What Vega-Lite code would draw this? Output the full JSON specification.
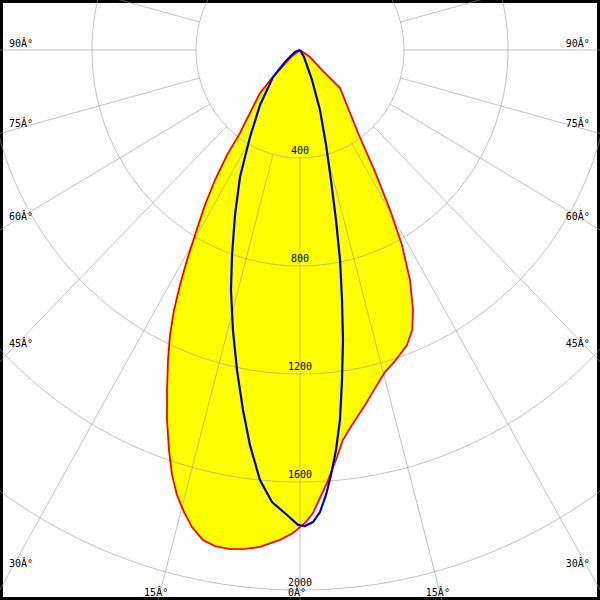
{
  "$schema": "https://vega.github.io/schema/vega-lite/v6.json",
  "width": 600,
  "height": 600,
  "autosize": {"type": "fit", "contains": "padding"},
  "padding": 0,
  "background": "white",
  "config": {"view": {"stroke": "black", "strokeWidth": 6}},
  "datasets": {
    "planeRed": [
      {"i": 1, "angle": 56, "cd": 0},
      {"i": 2, "angle": 56.1, "cd": 46},
      {"i": 3, "angle": 48.8, "cd": 113},
      {"i": 4, "angle": 47.5, "cd": 209},
      {"i": 5, "angle": 36.0, "cd": 380},
      {"i": 6, "angle": 32.6, "cd": 536},
      {"i": 7, "angle": 30.3, "cd": 686},
      {"i": 8, "angle": 28.5, "cd": 822},
      {"i": 9, "angle": 26.4, "cd": 951},
      {"i": 10, "angle": 24.3, "cd": 1057},
      {"i": 11, "angle": 22.6, "cd": 1123},
      {"i": 12, "angle": 20.6, "cd": 1168},
      {"i": 13, "angle": 17.8, "cd": 1206},
      {"i": 14, "angle": 15.3, "cd": 1237},
      {"i": 15, "angle": 13.4, "cd": 1276},
      {"i": 16, "angle": 10.8, "cd": 1338},
      {"i": 17, "angle": 8.2, "cd": 1403},
      {"i": 18, "angle": 6.5, "cd": 1454},
      {"i": 19, "angle": 5.4, "cd": 1514},
      {"i": 20, "angle": 3.7, "cd": 1607},
      {"i": 21, "angle": 2.65, "cd": 1661},
      {"i": 22, "angle": 1.67, "cd": 1716},
      {"i": 23, "angle": 0.76, "cd": 1748},
      {"i": 24, "angle": 0, "cd": 1767},
      {"i": 25, "angle": -0.86, "cd": 1789},
      {"i": 26, "angle": -2.43, "cd": 1816},
      {"i": 27, "angle": -4.78, "cd": 1847},
      {"i": 28, "angle": -6.53, "cd": 1860},
      {"i": 29, "angle": -8.29, "cd": 1868},
      {"i": 30, "angle": -10.09, "cd": 1866},
      {"i": 31, "angle": -11.62, "cd": 1853},
      {"i": 32, "angle": -13.23, "cd": 1815},
      {"i": 33, "angle": -14.62, "cd": 1768},
      {"i": 34, "angle": -16.02, "cd": 1715},
      {"i": 35, "angle": -17.37, "cd": 1649},
      {"i": 36, "angle": -18.78, "cd": 1565},
      {"i": 37, "angle": -20.47, "cd": 1463},
      {"i": 38, "angle": -22.1, "cd": 1359},
      {"i": 39, "angle": -23.86, "cd": 1255},
      {"i": 40, "angle": -25.35, "cd": 1168},
      {"i": 41, "angle": -26.71, "cd": 1078},
      {"i": 42, "angle": -27.93, "cd": 985},
      {"i": 43, "angle": -29.19, "cd": 891},
      {"i": 44, "angle": -30.68, "cd": 784},
      {"i": 45, "angle": -32.47, "cd": 681},
      {"i": 46, "angle": -34.17, "cd": 582},
      {"i": 47, "angle": -35.83, "cd": 480},
      {"i": 48, "angle": -36.9, "cd": 384},
      {"i": 49, "angle": -39.5, "cd": 302},
      {"i": 50, "angle": -44.0, "cd": 221},
      {"i": 51, "angle": -46.1, "cd": 150},
      {"i": 52, "angle": -47.8, "cd": 88},
      {"i": 53, "angle": -54.2, "cd": 38},
      {"i": 54, "angle": -56, "cd": 0}
    ],
    "planeBlue": [
      {"i": 1, "angle": 31, "cd": 0},
      {"i": 2, "angle": 30.7, "cd": 30},
      {"i": 3, "angle": 22.6, "cd": 120},
      {"i": 4, "angle": 19.1, "cd": 235},
      {"i": 5, "angle": 15.9, "cd": 366},
      {"i": 6, "angle": 13.9, "cd": 496},
      {"i": 7, "angle": 12.4, "cd": 645},
      {"i": 8, "angle": 11.2, "cd": 793},
      {"i": 9, "angle": 9.9, "cd": 940},
      {"i": 10, "angle": 8.75, "cd": 1087},
      {"i": 11, "angle": 7.53, "cd": 1233},
      {"i": 12, "angle": 6.4, "cd": 1379},
      {"i": 13, "angle": 5.34, "cd": 1488},
      {"i": 14, "angle": 4.33, "cd": 1579},
      {"i": 15, "angle": 3.47, "cd": 1651},
      {"i": 16, "angle": 2.57, "cd": 1713},
      {"i": 17, "angle": 1.64, "cd": 1749},
      {"i": 18, "angle": 0.62, "cd": 1763},
      {"i": 19, "angle": -0.25, "cd": 1759},
      {"i": 20, "angle": -1.66, "cd": 1723},
      {"i": 21, "angle": -3.68, "cd": 1678},
      {"i": 22, "angle": -5.52, "cd": 1600},
      {"i": 23, "angle": -7.49, "cd": 1476},
      {"i": 24, "angle": -9.34, "cd": 1351},
      {"i": 25, "angle": -11.55, "cd": 1210},
      {"i": 26, "angle": -13.96, "cd": 1069},
      {"i": 27, "angle": -16.62, "cd": 928},
      {"i": 28, "angle": -19.0, "cd": 803},
      {"i": 29, "angle": -22.25, "cd": 660},
      {"i": 30, "angle": -26.13, "cd": 524},
      {"i": 31, "angle": -30.83, "cd": 375},
      {"i": 32, "angle": -37.05, "cd": 255},
      {"i": 33, "angle": -46.1, "cd": 144},
      {"i": 34, "angle": -52.4, "cd": 73},
      {"i": 35, "angle": -69, "cd": 21},
      {"i": 36, "angle": -69, "cd": 0}
    ],
    "rings": [
      {"v": 400, "label": "400"},
      {"v": 800, "label": "800"},
      {"v": 1200, "label": "1200"},
      {"v": 1600, "label": "1600"},
      {"v": 2000, "label": "2000"}
    ],
    "spokes": [
      {"a": 0}, {"a": 15}, {"a": 30}, {"a": 45}, {"a": 60}, {"a": 75}, {"a": 90}, {"a": 105},
      {"a": 120}, {"a": 135}, {"a": 150}, {"a": 165}, {"a": 180}, {"a": 195}, {"a": 210},
      {"a": 225}, {"a": 240}, {"a": 255}, {"a": 270}, {"a": 285}, {"a": 300}, {"a": 315},
      {"a": 330}, {"a": 345}
    ],
    "sideLabels": [
      {"a": 30, "t": "30Â°"},
      {"a": 45, "t": "45Â°"},
      {"a": 60, "t": "60Â°"},
      {"a": 75, "t": "75Â°"},
      {"a": 90, "t": "90Â°"}
    ],
    "bottomLabels": [
      {"a": -15, "t": "15Â°"},
      {"a": 0, "t": "0Â°"},
      {"a": 15, "t": "15Â°"}
    ]
  },
  "encoding": {
    "x": {"field": "x", "type": "quantitative", "scale": {"domain": [-1153.85, 1153.85], "nice": false, "zero": false}, "axis": null},
    "y": {"field": "y", "type": "quantitative", "scale": {"domain": [-185.2, 2037], "nice": false, "zero": false, "reverse": true}, "axis": null}
  },
  "layer": [
    {
      "data": {"name": "planeRed"},
      "transform": [
        {"calculate": "datum.cd * sin(datum.angle * PI / 180)", "as": "x"},
        {"calculate": "datum.cd * cos(datum.angle * PI / 180)", "as": "y"}
      ],
      "mark": {"type": "line", "fill": "#ffff00", "stroke": "#ffff00", "strokeOpacity": 0, "clip": true},
      "encoding": {"order": {"field": "i", "type": "quantitative"}}
    },
    {
      "data": {"name": "rings"},
      "transform": [
        {"calculate": "0", "as": "x"},
        {"calculate": "0", "as": "y"}
      ],
      "mark": {
        "type": "point",
        "shape": "M -1 0 C -1 -0.5736 -0.5523 -1.0385 0 -1.0385 C 0.5523 -1.0385 1 -0.5736 1 0 C 1 0.5736 0.5523 1.0385 0 1.0385 C -0.5523 1.0385 -1 0.5736 -1 0 Z",
        "filled": false,
        "stroke": "#999999",
        "strokeOpacity": 0.6,
        "strokeWidth": 1,
        "opacity": 1,
        "clip": true
      },
      "encoding": {
        "size": {"field": "v", "type": "quantitative", "scale": {"type": "pow", "exponent": 2, "domain": [0, 2000], "range": [0, 1081600]}, "legend": null}
      }
    },
    {
      "data": {"name": "spokes"},
      "transform": [
        {"calculate": "400 * sin(datum.a * PI / 180)", "as": "x"},
        {"calculate": "400 * cos(datum.a * PI / 180)", "as": "y"},
        {"calculate": "3000 * sin(datum.a * PI / 180)", "as": "x2"},
        {"calculate": "3000 * cos(datum.a * PI / 180)", "as": "y2"}
      ],
      "mark": {"type": "rule", "stroke": "#999999", "strokeOpacity": 0.6, "strokeWidth": 1, "clip": true},
      "encoding": {
        "x2": {"field": "x2"},
        "y2": {"field": "y2"}
      }
    },
    {
      "data": {"name": "rings"},
      "transform": [
        {"calculate": "0", "as": "x"},
        {"calculate": "datum.v", "as": "y"}
      ],
      "mark": {"type": "text", "align": "center", "baseline": "alphabetic", "dy": -4, "font": "DejaVu Sans Mono", "fontSize": 10, "color": "black"},
      "encoding": {
        "text": {"field": "label"}
      }
    },
    {
      "data": {"name": "sideLabels"},
      "transform": [
        {"calculate": "-1119", "as": "x"},
        {"calculate": "1111 * cos(datum.a * PI / 180) / sin(datum.a * PI / 180)", "as": "y"}
      ],
      "mark": {"type": "text", "align": "left", "baseline": "alphabetic", "dy": -3, "font": "DejaVu Sans Mono", "fontSize": 10, "color": "black"},
      "encoding": {"text": {"field": "t"}}
    },
    {
      "data": {"name": "sideLabels"},
      "transform": [
        {"calculate": "1115", "as": "x"},
        {"calculate": "1111 * cos(datum.a * PI / 180) / sin(datum.a * PI / 180)", "as": "y"}
      ],
      "mark": {"type": "text", "align": "right", "baseline": "alphabetic", "dy": -3, "font": "DejaVu Sans Mono", "fontSize": 10, "color": "black"},
      "encoding": {"text": {"field": "t"}}
    },
    {
      "data": {"name": "bottomLabels"},
      "transform": [
        {"calculate": "2022 * sin(datum.a * PI / 180) / cos(datum.a * PI / 180)", "as": "x"},
        {"calculate": "2022", "as": "y"}
      ],
      "mark": {"type": "text", "align": "center", "baseline": "alphabetic", "dx": -3, "font": "DejaVu Sans Mono", "fontSize": 10, "color": "black"},
      "encoding": {"text": {"field": "t"}}
    },
    {
      "data": {"name": "planeRed"},
      "transform": [
        {"calculate": "datum.cd * sin(datum.angle * PI / 180)", "as": "x"},
        {"calculate": "datum.cd * cos(datum.angle * PI / 180)", "as": "y"}
      ],
      "mark": {"type": "line", "stroke": "#ff0000", "strokeWidth": 1.8, "clip": true},
      "encoding": {"order": {"field": "i", "type": "quantitative"}}
    },
    {
      "data": {"name": "planeBlue"},
      "transform": [
        {"calculate": "datum.cd * sin(datum.angle * PI / 180)", "as": "x"},
        {"calculate": "datum.cd * cos(datum.angle * PI / 180)", "as": "y"}
      ],
      "mark": {"type": "line", "stroke": "#0000cc", "strokeWidth": 2.2, "clip": true},
      "encoding": {"order": {"field": "i", "type": "quantitative"}}
    }
  ]
}
